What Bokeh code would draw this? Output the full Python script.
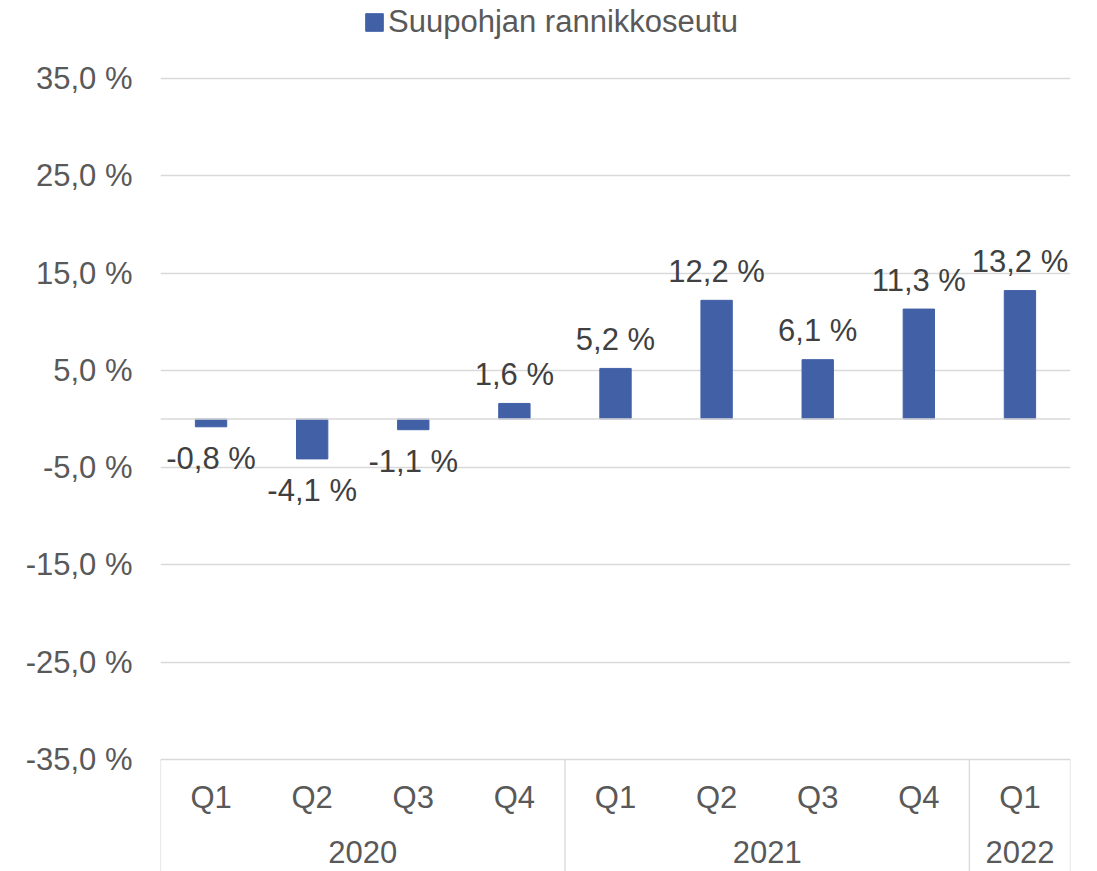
from bokeh.plotting import figure
from bokeh.models import (FactorRange, Range1d, FixedTicker, CustomJSTickFormatter,
                          ColumnDataSource, Legend, LegendItem, Span)
from bokeh.core.properties import value
from bokeh.embed import file_html
from bokeh.resources import INLINE

# ---- data ----
years = ["2020", "2020", "2020", "2020", "2021", "2021", "2021", "2021", "2022"]
quarters = ["Q1", "Q2", "Q3", "Q4", "Q1", "Q2", "Q3", "Q4", "Q1"]
change_pct = [-0.8, -4.1, -1.1, 1.6, 5.2, 12.2, 6.1, 11.3, 13.2]
series_name = "Suupohjan rannikkoseutu"
y_ticks = [-35, -25, -15, -5, 5, 15, 25, 35]

FONT = "Liberation Sans"
AXIS_COLOR = "#595959"
LABEL_COLOR = "#404040"
GRID_COLOR = "#D9D9D9"
BAR_COLOR = "#4160A6"
FS = "31px"

factors = list(zip(years, quarters))
labels = [f"{v:.1f}".replace(".", ",") + " %" for v in change_pct]
label_offsets = [-29 if v >= 0 else 32 for v in change_pct]
unique_years = list(dict.fromkeys(years))

p = figure(width=1097, height=871,
           x_range=FactorRange(*factors, factor_padding=0, group_padding=0, subgroup_padding=0),
           y_range=Range1d(-46.512, 43.018),
           x_axis_location=None,
           output_backend="svg", toolbar_location=None,
           min_border_left=160, min_border_right=27, min_border_top=0, min_border_bottom=0)
p.outline_line_color = None
p.background_fill_color = "white"
p.border_fill_color = "white"

p.xgrid.visible = False
p.ygrid.ticker = FixedTicker(ticks=y_ticks)
p.ygrid.grid_line_color = GRID_COLOR
p.ygrid.grid_line_width = 1.3

p.yaxis.ticker = FixedTicker(ticks=y_ticks)
p.yaxis.formatter = CustomJSTickFormatter(code="return tick.toFixed(1).replace('.', ',') + ' %';")
p.yaxis.axis_line_color = None
p.yaxis.major_tick_line_color = None
p.yaxis.minor_tick_line_color = None
p.yaxis.major_tick_out = 0
p.yaxis.major_tick_in = 0
p.yaxis.major_label_standoff = 28
p.yaxis.major_label_text_font = FONT
p.yaxis.major_label_text_font_size = FS
p.yaxis.major_label_text_color = AXIS_COLOR

# zero line
p.add_layout(Span(location=0, dimension="width", line_color=GRID_COLOR, line_width=1.3))

src = ColumnDataSource(dict(x=factors, top=change_pct, label=labels, off=label_offsets))
bars = p.vbar(x="x", top="top", bottom=0, width=0.31, source=src,
              fill_color=BAR_COLOR, line_color=BAR_COLOR)

p.text(x="x", y="top", text="label", y_offset="off", source=src,
       text_align="center", text_baseline="alphabetic",
       text_font=value(FONT), text_font_size=FS, text_color=LABEL_COLOR)

# category separators below the plot area
sep_x = []
for yr in unique_years:
    i = years.index(yr)
    sep_x.append([years[i], quarters[i], -0.5])
sep_x.append([years[-1], quarters[-1], 0.5])
p.segment(x0=sep_x, x1=sep_x, y0=[y_ticks[0]] * len(sep_x), y1=[p.y_range.start] * len(sep_x),
          line_color=GRID_COLOR, line_width=1.3)

# category labels
p.text(x=factors, y=[y_ticks[0]] * len(factors), text=quarters, y_offset=38,
       text_align="center", text_baseline="alphabetic",
       text_font=value(FONT), text_font_size=FS, text_color=AXIS_COLOR)
p.text(x=unique_years, y=[y_ticks[0]] * len(unique_years), text=unique_years, y_offset=92,
       text_align="center", text_baseline="alphabetic",
       text_font=value(FONT), text_font_size=FS, text_color=AXIS_COLOR)

legend = Legend(items=[LegendItem(label=series_name, renderers=[bars])],
                location=(203, 831.5), orientation="horizontal",
                padding=0, margin=0, spacing=0,
                glyph_width=22, glyph_height=22, label_standoff=3,
                label_text_font=FONT, label_text_font_size=FS, label_text_color=AXIS_COLOR,
                border_line_color=None, background_fill_alpha=0)
p.add_layout(legend, "center")

open("out.html", "w").write(file_html(p, INLINE))
